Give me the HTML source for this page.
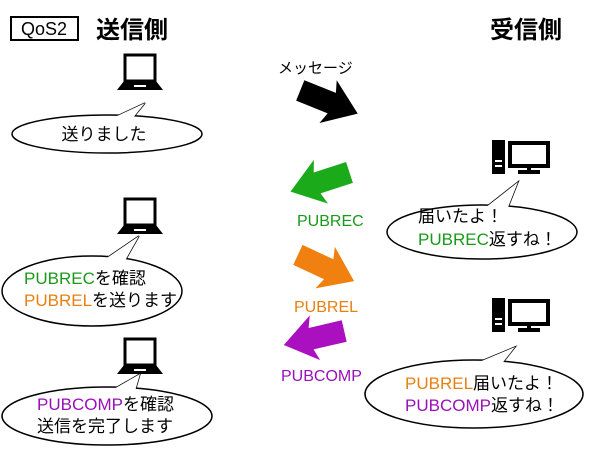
<!DOCTYPE html>
<html><head><meta charset="utf-8"><style>
html,body{margin:0;padding:0;background:#fff;}
svg text{font-family:"Liberation Sans","Noto Sans CJK JP",sans-serif;}
</style></head><body>
<svg width="600" height="450" viewBox="0 0 600 450" xmlns="http://www.w3.org/2000/svg">
<defs>
<g id="laptop">
<rect x="-15" y="-17" width="30" height="26" fill="none" stroke="#000" stroke-width="3"/>
<path d="M-16,9 L16,9 L23,18 L-23,18 Z" fill="#000"/>
<rect x="-6" y="13" width="12" height="2" fill="#fff"/>
</g>
<g id="pc">
<rect x="0" y="0" width="13" height="34" fill="#000"/>
<rect x="3" y="20" width="7" height="2" fill="#fff"/>
<rect x="3" y="25" width="7" height="2" fill="#fff"/>
<rect x="18" y="3" width="38" height="23" fill="none" stroke="#000" stroke-width="4"/>
<rect x="35" y="26" width="4" height="5" fill="#000"/>
<rect x="26" y="30" width="22" height="4" fill="#000"/>
</g>
<path id="arr" d="M-31,-11 L3,-11 L-1,-23 L31,0 L-1,23 L3,11 L-31,11 Z"/>
</defs>

<rect x="11" y="17" width="67" height="23" fill="none" stroke="#000" stroke-width="2"/>
<text x="44" y="35" font-size="18" text-anchor="middle">QoS2</text>
<text x="96" y="38" font-size="24" font-weight="bold">送信側</text>
<text x="490" y="38" font-size="24" font-weight="bold">受信側</text>

<use href="#laptop" x="140" y="72"/>
<use href="#laptop" x="140" y="216"/>
<use href="#laptop" x="140" y="356"/>
<use href="#pc" x="492" y="140"/>
<use href="#pc" x="492" y="298"/>

<g stroke="#000" stroke-width="1.5" fill="#fff">
<path d="M100,124 L145,103 L128,124 Z"/>
<ellipse cx="107" cy="134" rx="95" ry="19"/>
<path d="M100,124 L145,103 L128,124 Z" stroke="none"/>

<path d="M476,215 L518,182 L505,215 Z"/>
<ellipse cx="482" cy="232" rx="95" ry="27"/>
<path d="M476,215 L518,182 L505,215 Z" stroke="none"/>

<path d="M95,266 L139,236 L122,266 Z"/>
<ellipse cx="92" cy="291" rx="90" ry="35"/>
<path d="M95,266 L139,236 L122,266 Z" stroke="none"/>

<path d="M460,370 L515,347 L497,370 Z"/>
<ellipse cx="474" cy="394" rx="109" ry="34"/>
<path d="M460,370 L515,347 L497,370 Z" stroke="none"/>

<path d="M98,398 L140,374 L133,398 Z"/>
<ellipse cx="107" cy="416" rx="105" ry="29"/>
<path d="M98,398 L140,374 L133,398 Z" stroke="none"/>
</g>

<g font-size="17">
<text x="104" y="140" text-anchor="middle">送りました</text>
<text x="418" y="222">届いたよ！</text>
<text x="418" y="245"><tspan fill="#1a9a1a">PUBREC</tspan>返すね！</text>
<text x="24" y="284"><tspan fill="#1a9a1a">PUBREC</tspan>を確認</text>
<text x="24" y="306"><tspan fill="#e88010">PUBREL</tspan>を送ります</text>
<text x="405" y="389"><tspan fill="#e88010">PUBREL</tspan>届いたよ！</text>
<text x="405" y="411"><tspan fill="#9a10b8">PUBCOMP</tspan>返すね！</text>
<text x="37" y="410"><tspan fill="#9a10b8">PUBCOMP</tspan>を確認</text>
<text x="37" y="432">送信を完了します</text>
</g>

<text x="278" y="73" font-size="15">メッセージ</text>
<use href="#arr" transform="translate(329,102) rotate(22)" fill="#000"/>
<use href="#arr" transform="translate(320,182) rotate(162)" fill="#1aaa1a"/>
<text x="297" y="226" font-size="16" fill="#1a9a1a">PUBREC</text>
<use href="#arr" transform="translate(326,268) rotate(25)" fill="#f08010"/>
<text x="294" y="312" font-size="16" fill="#e88010">PUBREL</text>
<use href="#arr" transform="translate(314,338) rotate(167)" fill="#aa10c0"/>
<text x="281" y="381" font-size="16" fill="#9a10b8">PUBCOMP</text>
</svg>
</body></html>
